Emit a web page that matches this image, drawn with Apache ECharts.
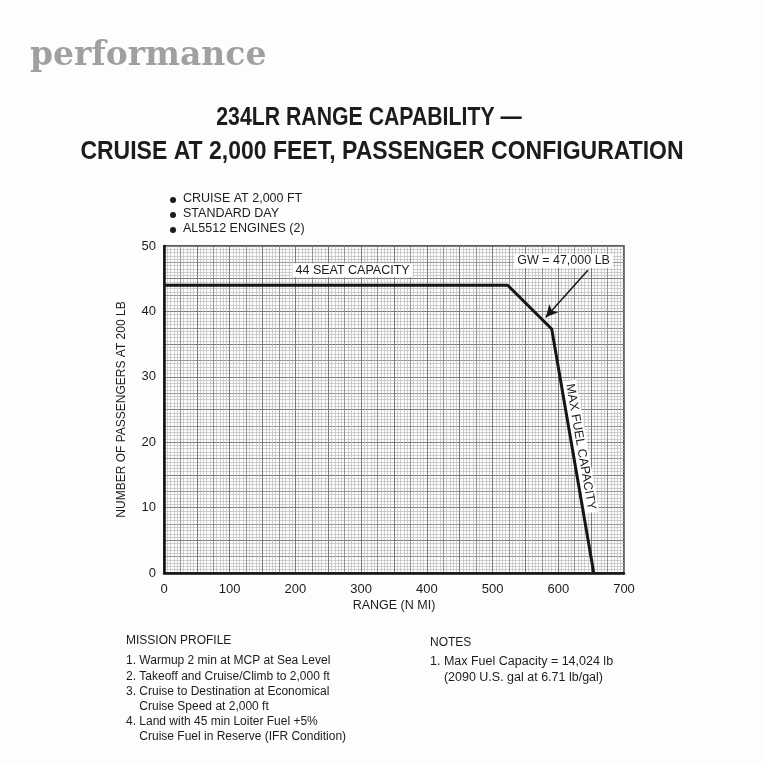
<!DOCTYPE html>
<html>
<head>
<meta charset="utf-8">
<script src="https://cdn.jsdelivr.net/npm/echarts@6/dist/echarts.min.js"></script>
<style>
html,body{margin:0;padding:0;background:#fdfdfc;}
#c{width:765px;height:764px;}
</style>
</head>
<body>
<div id="c"></div>
<script>
// ---- data ----
var rangeNmi   = [0, 523, 590, 654];
var passengers = [44, 44, 37.3, 0];
var xTicks = [0, 100, 200, 300, 400, 500, 600, 700];
var yTicks = [0, 10, 20, 30, 40, 50];
var gwArrowFrom = [645, 46.3];
var gwArrowTo   = [581, 39.1];
var seatLabelAt = [287, 46.3];
var gwLabelAt   = [608, 47.7];
var fuelLabelAt = [634, 19.3];
var bullets = ['CRUISE AT 2,000 FT', 'STANDARD DAY', 'AL5512 ENGINES (2)'];
var missionLines = [
  'MISSION PROFILE', '',
  '1. Warmup 2 min at MCP at Sea Level',
  '2. Takeoff and Cruise/Climb to 2,000 ft',
  '3. Cruise to Destination at Economical',
  '    Cruise Speed at 2,000 ft',
  '4. Land with 45 min Loiter Fuel +5%',
  '    Cruise Fuel in Reserve (IFR Condition)'
];
var notesLines = ['NOTES', '', '1. Max Fuel Capacity = 14,024 lb', '    (2090 U.S. gal at 6.71 lb/gal)'];

var FONT = '"Liberation Sans", Arial, sans-serif';
var INK = '#1c1c1c';

var chart = echarts.init(document.getElementById('c'));

var data = rangeNmi.map(function (x, i) { return [x, passengers[i]]; });

var graphics = [
  { type: 'text', left: 30, top: 40, style: { text: 'performance', font: 'bold 33px "DejaVu Serif", serif', fill: '#a0a0a0' } },
  { type: 'text', x: 369, y: 118, scaleX: 0.85, style: { text: '234LR RANGE CAPABILITY —', font: 'bold 25px ' + FONT, fill: INK, align: 'center', verticalAlign: 'middle' } },
  { type: 'text', x: 382, y: 152, scaleX: 0.92, style: { text: 'CRUISE AT 2,000 FEET, PASSENGER CONFIGURATION', font: 'bold 25px ' + FONT, fill: INK, align: 'center', verticalAlign: 'middle' } }
];
bullets.forEach(function (b, i) {
  var y = 199 + i * 15;
  graphics.push({ type: 'circle', shape: { cx: 173, cy: y + 1, r: 3 }, style: { fill: INK } });
  graphics.push({ type: 'text', x: 183, y: y, style: { text: b, font: '12.5px ' + FONT, fill: INK, verticalAlign: 'middle' } });
});
missionLines.forEach(function (t, i) {
  if (!t) return;
  var y = i === 0 ? 641 : 661 + (i - 2) * 15.2;
  graphics.push({ type: 'text', x: 126, y: y, style: { text: t, font: '12px ' + FONT, fill: INK, verticalAlign: 'middle' } });
});
notesLines.forEach(function (t, i) {
  if (!t) return;
  var y = i === 0 ? 643 : 662 + (i - 2) * 15.2;
  graphics.push({ type: 'text', x: 430, y: y, style: { text: t, font: (i === 0 ? '12px ' : '12.5px ') + FONT, fill: INK, verticalAlign: 'middle' } });
});

var labelBase = { show: true, color: INK, fontFamily: FONT, fontSize: 12.5, backgroundColor: '#fff', padding: [1, 3, 0, 3] };

chart.setOption({
  backgroundColor: '#fdfdfc',
  animation: false,
  graphic: graphics,
  grid: { left: 164, right: 141, top: 246, bottom: 191, show: true, borderColor: '#222', borderWidth: 1.5, backgroundColor: 'transparent' },
  xAxis: [{
    type: 'value', min: 0, max: 700, interval: 50,
    name: 'RANGE (N MI)', nameLocation: 'middle', nameGap: 26,
    nameTextStyle: { fontFamily: FONT, fontSize: 12.5, color: INK },
    axisLine: { show: true, lineStyle: { color: '#111', width: 2.5 } },
    axisTick: { show: false },
    axisLabel: { fontFamily: FONT, fontSize: 13, color: INK, margin: 10,
      formatter: function (v) { return xTicks.indexOf(v) >= 0 ? String(v) : ''; } },
    splitLine: { show: true, lineStyle: { color: '#505050', width: 1 } },
    minorTick: { show: false, splitNumber: 10 },
    minorSplitLine: { show: true, lineStyle: { color: '#b4b4b4', width: 0.6 } }
  }, {
    type: 'value', min: 0, max: 700, interval: 25, position: 'top',
    axisLine: { show: false }, axisTick: { show: false }, axisLabel: { show: false },
    splitLine: { show: true, lineStyle: { color: '#858585', width: 0.8 } }
  }],
  yAxis: [{
    type: 'value', min: 0, max: 50, interval: 5,
    name: 'NUMBER OF PASSENGERS AT 200 LB', nameLocation: 'middle', nameGap: 36, nameRotate: 90,
    nameTextStyle: { fontFamily: FONT, fontSize: 12, color: INK },
    axisLine: { show: true, lineStyle: { color: '#111', width: 2.5 } },
    axisTick: { show: false },
    axisLabel: { fontFamily: FONT, fontSize: 13, color: INK, margin: 8,
      formatter: function (v) { return yTicks.indexOf(v) >= 0 ? String(v) : ''; } },
    splitLine: { show: true, lineStyle: { color: '#505050', width: 1 } },
    minorTick: { show: false, splitNumber: 10 },
    minorSplitLine: { show: true, lineStyle: { color: '#b4b4b4', width: 0.6 } }
  }, {
    type: 'value', min: 0, max: 50, interval: 2.5, position: 'right',
    axisLine: { show: false }, axisTick: { show: false }, axisLabel: { show: false },
    splitLine: { show: true, lineStyle: { color: '#858585', width: 0.8 } }
  }],
  series: [{
    type: 'line', data: data, symbol: 'none', z: 5,
    lineStyle: { color: '#151515', width: 3 },
    markLine: {
      silent: true, symbol: ['none', 'arrow'], symbolSize: [9, 12],
      label: { show: false },
      lineStyle: { color: '#151515', width: 1.5, type: 'solid' },
      data: [[{ coord: gwArrowFrom }, { coord: gwArrowTo }]]
    },
    markPoint: {
      silent: true, symbol: 'rect', symbolSize: 1, itemStyle: { color: 'rgba(0,0,0,0)' },
      data: [
        { coord: seatLabelAt, label: Object.assign({}, labelBase, { formatter: '44 SEAT CAPACITY', position: 'inside' }) },
        { coord: gwLabelAt, label: Object.assign({}, labelBase, { formatter: 'GW = 47,000 LB', position: 'inside' }) },
        { coord: fuelLabelAt, label: Object.assign({}, labelBase, { formatter: 'MAX FUEL CAPACITY', position: 'inside', rotate: -80 }) }
      ]
    }
  }]
});
</script>
</body>
</html>
